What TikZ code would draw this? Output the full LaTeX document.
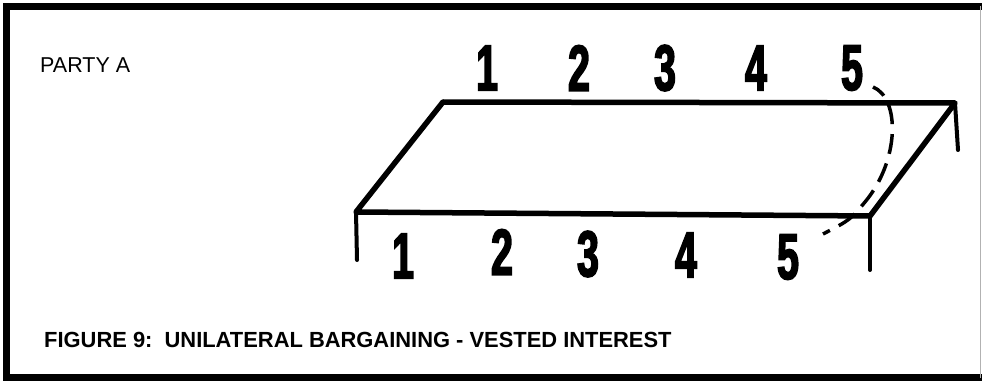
\documentclass[tikz,border=0pt]{standalone}
\usepackage{fontspec}
\usepackage{tikz}
\usetikzlibrary{positioning}
\newfontfamily\labelfont{Liberation Sans}
\newfontfamily\digitfont[FakeStretch=0.6, FakeBold=2.5]{Liberation Sans Bold}
\tikzset{
  edge/.style={line width=5.5pt, line cap=round, line join=round},
  tick/.style={line width=4pt, line cap=round},
  trace/.style={line width=3.5pt, dash pattern=on 20pt off 10pt, dash phase=6pt},
  num/.style={inner sep=0pt, font=\digitfont\fontsize{65}{65}\selectfont},
  caption/.style={inner sep=0pt, anchor=base west},
}

\begin{document}
\begin{tikzpicture}[x=1pt, y=-1pt]
        \useasboundingbox (0,0) rectangle (982,385);

        % Frame
        \draw[line width=6.5pt] (982,6.5) -- (6.5,6.5) -- (6.5,377.5) -- (982,377.5);
        \draw[line width=0.8pt, black!30] (980.5,6.5) -- (980.5,377.5);

        % Define the corners of the parallelogram
        \coordinate (TL) at (443,102);
        \coordinate (TR) at (955,103);
        \coordinate (BL) at (356,212);
        \coordinate (BR) at (870,216);
        \coordinate (TRd) at (958,150);
        \coordinate (BLd) at (357,260);
        \coordinate (BRd) at (870,270);

        % Draw the parallelogram and the ticks
        \draw[edge] (BL)--(TL)--(TR)--(BR)--cycle;
        \draw[tick] (BL)--(BLd); \draw[tick] (BR)--(BRd); \draw[tick] (TR)--(TRd);

        % Numbers
        \node[num] (t1) at (487,68) {1};
        \node[num] (t2) at (579,68) {2};
        \node[num] (t3) at (665,68) {3};
        \node[num] (t4) at (756,68) {4};
        \node[num] (t5) at (852,68) {5};
        \node[num] (b1) at (403,256) {1};
        \node[num] (b2) at (502,252) {2};
        \node[num] (b3) at (588,254) {3};
        \node[num] (b4) at (686,255) {4};
        \node[num] (b5) at (788,257) {5};

        % Dashed link from top 5 to bottom 5
        \coordinate (ds) at (873,87);
        \coordinate (de) at (823,234);
        \draw[trace] (ds) .. controls (900,98) and (900,160) .. (865,202) .. controls (850,220) .. (de);

        % Texts
        \node[caption, font=\labelfont\fontsize{21.5}{24}\selectfont] (party) at (40,73) {PARTY A};
        \node[caption, font=\labelfont\bfseries\fontsize{21.9}{24}\selectfont] (title) at (44,347)
          {FIGURE 9:\ \ UNILATERAL BARGAINING - VESTED INTEREST};
\end{tikzpicture}
\end{document}
